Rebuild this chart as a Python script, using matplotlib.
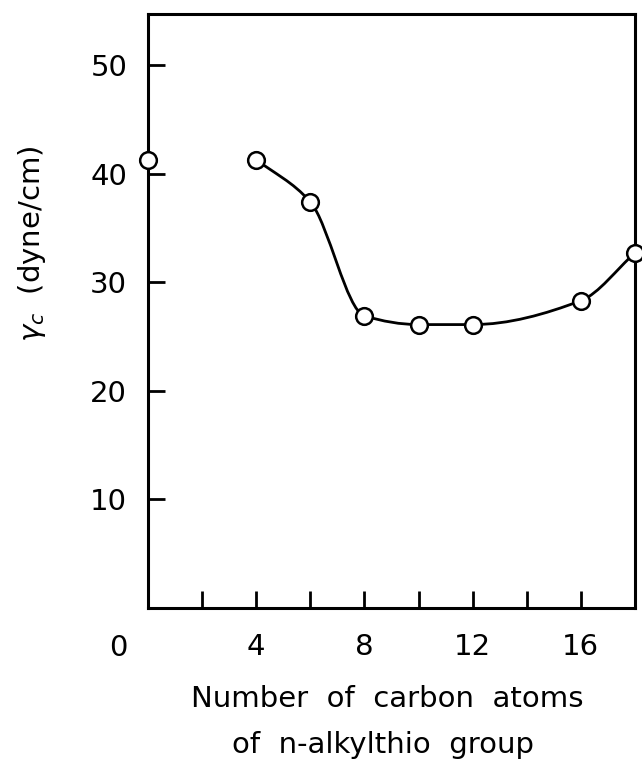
import numpy as np
import matplotlib.pyplot as plt
from matplotlib.path import Path
from matplotlib.patches import PathPatch
from matplotlib.transforms import offset_copy

# carbon number of the n-alkylthio group vs critical surface tension
n_carbon = [0, 4, 6, 8, 10, 12, 16, 18]
gamma_c = [41.3, 41.3, 37.4, 26.9, 26.1, 26.1, 28.3, 32.7]

# the smooth curve runs through the series from n = 4 onward
curve_start = 1

x_ticks = [2, 4, 6, 8, 10, 12, 14, 16]
x_ticklabels = ["", "4", "", "8", "", "12", "", "16"]
y_ticks = [10, 20, 30, 40, 50]


def pchip_slopes(x, y):
    # monotone (Fritsch-Carlson) tangents, no overshoot between points
    h = np.diff(x)
    d = np.diff(y) / h
    m = np.zeros_like(y)
    for k in range(1, len(x) - 1):
        if d[k - 1] * d[k] <= 0:
            m[k] = 0.0
        else:
            w1 = 2 * h[k] + h[k - 1]
            w2 = h[k] + 2 * h[k - 1]
            m[k] = (w1 + w2) / (w1 / d[k - 1] + w2 / d[k])
    m[0] = d[0]
    m[-1] = d[-1]
    return m


def smooth_path(xs, ys):
    xs = np.asarray(xs, float)
    ys = np.asarray(ys, float)
    m = pchip_slopes(xs, ys)
    verts = [(xs[0], ys[0])]
    codes = [Path.MOVETO]
    for i in range(len(xs) - 1):
        h = xs[i + 1] - xs[i]
        verts += [(xs[i] + h / 3, ys[i] + m[i] * h / 3),
                  (xs[i + 1] - h / 3, ys[i + 1] - m[i + 1] * h / 3),
                  (xs[i + 1], ys[i + 1])]
        codes += [Path.CURVE4] * 3
    return Path(verts, codes)


plt.rcParams["font.family"] = ["DejaVu Sans"]
fs = 21

fig = plt.figure(figsize=(6.42, 7.7), dpi=100)
ax = fig.add_axes([0.2305, 0.2104, 0.7585, 0.7714])

ax.set_xlim(0, 18)
ax.set_ylim(0, 54.7)

path = smooth_path(n_carbon[curve_start:], gamma_c[curve_start:])
ax.add_patch(PathPatch(path, facecolor="none", edgecolor="black", lw=2.0))

ax.plot(n_carbon, gamma_c, "o", ms=12, mfc="white", mec="black", mew=1.8,
        clip_on=False, zorder=5)

for s in ax.spines.values():
    s.set_linewidth(2.2)

ax.set_xticks(x_ticks)
ax.set_xticklabels(x_ticklabels, fontsize=fs)
ax.set_yticks(y_ticks)
ax.set_yticklabels([str(v) for v in y_ticks], fontsize=fs)
ax.tick_params(axis="x", direction="in", length=12, width=2.0, pad=18)
ax.tick_params(axis="y", direction="in", length=12, width=2.0, pad=15)

# origin label sits left of the corner
ax.text(0, 0, "0", fontsize=fs, ha="center", va="top",
        transform=offset_copy(ax.transData, fig=fig, x=-30, y=-26, units="dots"))

fig.text(0.05, 0.683, r"$\gamma_c$  (dyne/cm)", rotation=90, fontsize=fs,
         ha="center", va="center")

fig.text(0.603, 0.092, "Number  of  carbon  atoms", fontsize=fs,
         ha="center", va="center")
fig.text(0.597, 0.033, "of  n-alkylthio  group", fontsize=fs,
         ha="center", va="center")

fig.savefig("out.png", dpi=100)
